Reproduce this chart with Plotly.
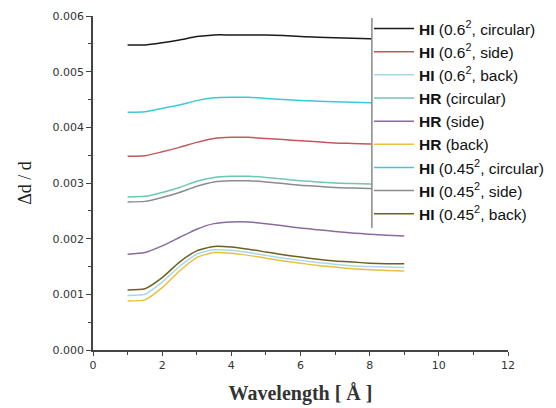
import plotly.graph_objects as go

wavelength = [1, 1.5, 2, 2.5, 3, 3.5, 4, 4.5, 5, 5.5, 6, 6.5, 7, 7.5, 8, 8.5, 9]

names = [
    "<b>HI</b> (0.6<sup>2</sup>, circular)",
    "<b>HI</b> (0.6<sup>2</sup>, side)",
    "<b>HI</b> (0.6<sup>2</sup>, back)",
    "<b>HR</b> (circular)",
    "<b>HR</b> (side)",
    "<b>HR</b> (back)",
    "<b>HI</b> (0.45<sup>2</sup>, circular)",
    "<b>HI</b> (0.45<sup>2</sup>, side)",
    "<b>HI</b> (0.45<sup>2</sup>, back)",
]

# values in units of 1e-3
hi06_circular = [5.48, 5.48, 5.52, 5.57, 5.63, 5.66, 5.66, 5.66, 5.66, 5.65, 5.63, 5.62, 5.61, 5.60, 5.59, 5.58, 5.58]
hi06_side = [3.48, 3.49, 3.56, 3.64, 3.73, 3.80, 3.82, 3.82, 3.80, 3.78, 3.76, 3.74, 3.72, 3.71, 3.70, 3.69, 3.68]
hi06_back = [0.98, 1.00, 1.22, 1.50, 1.72, 1.80, 1.79, 1.75, 1.70, 1.65, 1.61, 1.57, 1.54, 1.51, 1.50, 1.49, 1.48]
hr_circular = [2.75, 2.76, 2.83, 2.92, 3.03, 3.10, 3.12, 3.12, 3.10, 3.07, 3.04, 3.02, 3.00, 2.99, 2.98, 2.97, 2.97]
hr_side = [1.72, 1.75, 1.87, 2.02, 2.17, 2.27, 2.30, 2.30, 2.27, 2.23, 2.19, 2.16, 2.13, 2.10, 2.08, 2.06, 2.05]
hr_back = [0.88, 0.90, 1.12, 1.42, 1.66, 1.75, 1.74, 1.70, 1.65, 1.60, 1.56, 1.52, 1.49, 1.46, 1.44, 1.43, 1.42]
hi045_circular = [4.27, 4.28, 4.34, 4.40, 4.48, 4.53, 4.54, 4.54, 4.52, 4.50, 4.48, 4.47, 4.46, 4.45, 4.44, 4.43, 4.42]
hi045_side = [2.66, 2.67, 2.74, 2.83, 2.94, 3.02, 3.04, 3.04, 3.02, 2.99, 2.96, 2.94, 2.92, 2.91, 2.90, 2.89, 2.89]
hi045_back = [1.08, 1.10, 1.30, 1.58, 1.78, 1.86, 1.85, 1.81, 1.76, 1.71, 1.67, 1.63, 1.60, 1.58, 1.56, 1.55, 1.55]

series = [hi06_circular, hi06_side, hi06_back, hr_circular, hr_side, hr_back,
          hi045_circular, hi045_side, hi045_back]
colors = ["#1a1a1a", "#c05a5a", "#a8d8ee", "#6cc8b0", "#8a6aa0", "#e8c040",
          "#3ccad6", "#8c8c8c", "#6e6020"]

fig = go.Figure()
for name, vals, col in zip(names, series, colors):
    fig.add_trace(go.Scatter(
        x=wavelength, y=[v * 1e-3 for v in vals], mode="lines", name=name,
        line=dict(color=col, width=1.5, shape="spline", smoothing=0.6),
    ))

fig.update_layout(
    width=556, height=408,
    margin=dict(l=93, r=48, t=16, b=58, autoexpand=False),
    paper_bgcolor="white", plot_bgcolor="white",
    showlegend=True,
    legend=dict(
        x=0.665, y=1.012, xanchor="left", yanchor="top",
        bgcolor="rgba(0,0,0,0)", borderwidth=0,
        font=dict(family="Liberation Sans", size=15.5, color="#111"),
        itemwidth=40, tracegroupgap=0, maxheight=400,
    ),
    xaxis=dict(
        range=[0, 12], dtick=2, tick0=0,
        showgrid=False, zeroline=False,
        showline=True, linecolor="#444", linewidth=1.5,
        ticks="outside", ticklen=4, tickcolor="#444",
        minor=dict(dtick=1, ticks="outside", ticklen=3, tickcolor="#444"),
        tickfont=dict(family="DejaVu Sans", size=11, color="#333"),
        title=dict(text="<b>Wavelength [ Å ]</b>",
                   font=dict(family="Liberation Serif", size=20, color="#333"),
                   standoff=15),
    ),
    yaxis=dict(
        range=[0, 0.006], dtick=0.001, tick0=0, tickformat=".3f",
        showgrid=False, zeroline=False,
        showline=True, linecolor="#444", linewidth=1.5,
        ticks="outside", ticklen=5, tickcolor="#444",
        minor=dict(dtick=0.0005, ticks="outside", ticklen=3, tickcolor="#444"),
        tickfont=dict(family="DejaVu Sans", size=11, color="#333"),
        title=dict(text="Δd / d",
                   font=dict(family="Liberation Serif", size=18, color="#222"),
                   standoff=16),
    ),
    shapes=[
        dict(type="rect", xref="paper", yref="paper",
             x0=0.672, x1=1.2, y0=0.365, y1=1.0,
             fillcolor="white", line=dict(width=0), layer="above"),
        dict(type="line", xref="paper", yref="paper",
             x0=0.672, x1=0.672, y0=0.365, y1=0.994,
             line=dict(color="#888", width=1.5), layer="above"),
    ],
)

fig.write_html("out.html")
